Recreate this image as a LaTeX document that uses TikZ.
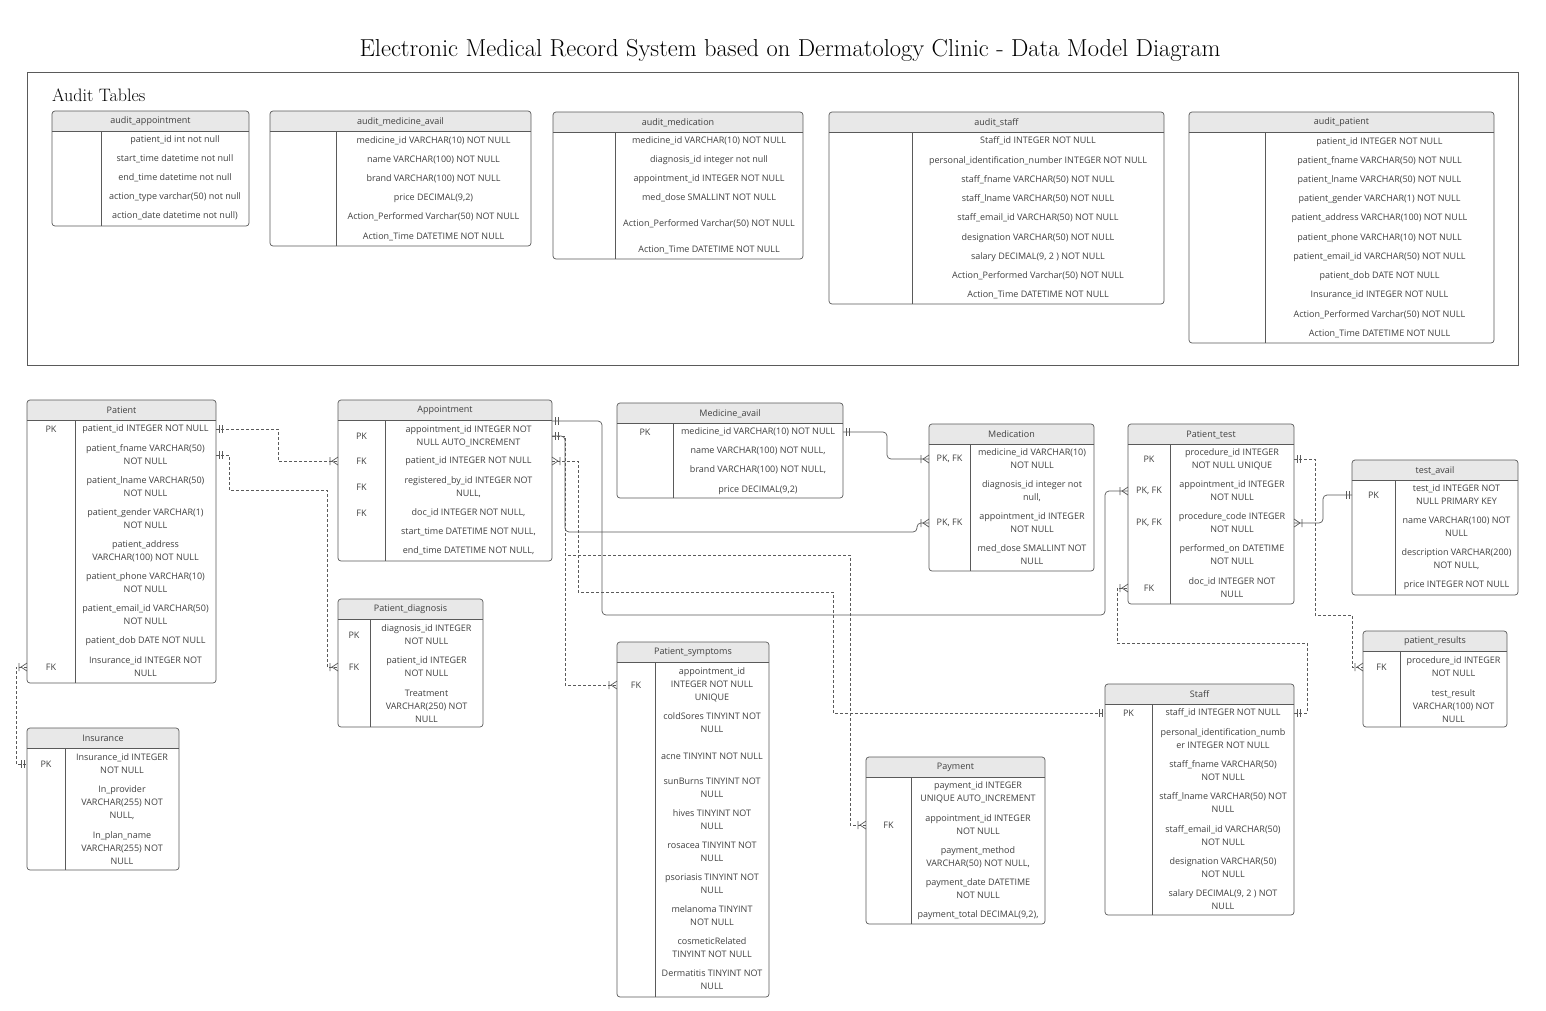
\documentclass[tikz,border=0pt]{standalone}
\usepackage{fontspec}
\usepackage{tikz}
\usetikzlibrary{calc}
\newfontfamily\tblfont{Open Sans}
\definecolor{hdrgray}{HTML}{E8E8E8}
\definecolor{linegray}{HTML}{5A5A5A}
\definecolor{txtgray}{HTML}{404040}

% table: name, x, y, width, height, key column width, title
\newcommand{\erbox}[7]{%
  \node[tbox, minimum width=#4pt, minimum height=#5pt, anchor=north west] (#1) at (#2,#3) {};
  \begin{scope}
    \clip[rounded corners=3pt] (#1.north west) rectangle (#1.south east);
    \fill[hdrgray] (#1.north west) rectangle ([yshift=-20pt]#1.north east);
  \end{scope}
  \draw[tline] ([yshift=-20pt]#1.north west) -- ([yshift=-20pt]#1.north east);
  \draw[tline] ([xshift=#6pt,yshift=-20pt]#1.north west) -- ([xshift=#6pt]#1.south west);
  \draw[tline, rounded corners=3pt] (#1.north west) rectangle (#1.south east);
  \node[fld] (#1-title) at ([yshift=-10.5pt]#1.north) {#7};
  \coordinate (#1-k) at ([xshift=#6pt/2]#1.north west);
  \coordinate (#1-v) at ($([xshift=#6pt]#1.north west)!0.5!(#1.north east)$);
}
\newcommand{\erkey}[3]{\node[fld] (#1-k#2) at (#1-k |- 0,#2) {#3};}
\newcommand{\erval}[4]{\node[fld] (#2) at (#1-v |- 0,#3) {#4};}

\begin{document}
\begin{tikzpicture}[x=1pt, y=-1pt,
    tbox/.style={inner sep=0pt, outer sep=0pt},
    tline/.style={draw=linegray, line width=0.7pt},
    fld/.style={font=\tblfont\fontsize{9}{13}\selectfont, text=txtgray, align=center, inner sep=0pt},
    rel/.style={draw=linegray, line width=0.7pt},
    solidrel/.style={rel, rounded corners=4pt},
    dashrel/.style={rel, dash pattern=on 3pt off 2pt},
    one/.pic={\draw[linegray, line width=0.7pt] (-3,-4) -- (-3,4) (-6,-4) -- (-6,4);},
    many/.pic={\draw[linegray, line width=0.7pt] (-8,-4) -- (-8,4) (0,-4) -- (-6,0) -- (0,4);}]
    \fill[white] (0,0) rectangle (1546,1010);
    \useasboundingbox (0,0) rectangle (1546,1010);

    \node[font=\fontsize{24.5}{28}\selectfont, text=black] (title) at (790,50) {Electronic Medical Record System based on Dermatology Clinic - Data Model Diagram};
    \node[draw=linegray, line width=0.8pt, tbox, minimum width=1491pt, minimum height=293pt, anchor=north west] (auditframe) at (27,72) {};
    \node[font=\fontsize{18}{22}\selectfont, text=black, anchor=west, inner sep=0pt] (audithead) at (52,95) {Audit Tables};

    % audit tables
    \erbox{aappt}{52}{111}{197}{115}{49}{audit\_appointment}
    \erval{aappt}{aappt-1}{140}{patient\_id int not null}
    \erval{aappt}{aappt-2}{159}{start\_time datetime not null}
    \erval{aappt}{aappt-3}{178}{end\_time datetime not null}
    \erval{aappt}{aappt-4}{197}{action\_type varchar(50) not null}
    \erval{aappt}{aappt-5}{216}{action\_date datetime not null)}

    \erbox{amav}{270}{111}{261}{135}{66}{audit\_medicine\_avail}
    \erval{amav}{amav-1}{141}{medicine\_id VARCHAR(10) NOT NULL}
    \erval{amav}{amav-2}{160}{name VARCHAR(100) NOT NULL}
    \erval{amav}{amav-3}{179}{brand VARCHAR(100) NOT NULL}
    \erval{amav}{amav-4}{198}{price DECIMAL(9,2)}
    \erval{amav}{amav-5}{217}{Action\_Performed Varchar(50) NOT NULL}
    \erval{amav}{amav-6}{237}{Action\_Time DATETIME NOT NULL}

    \erbox{amed}{553}{112}{250}{147}{62}{audit\_medication}
    \erval{amed}{amed-1}{141}{medicine\_id VARCHAR(10) NOT NULL}
    \erval{amed}{amed-2}{160}{diagnosis\_id integer not null}
    \erval{amed}{amed-3}{179}{appointment\_id INTEGER NOT NULL}
    \erval{amed}{amed-4}{198}{med\_dose SMALLINT NOT NULL}
    \erval{amed}{amed-5}{224}{Action\_Performed Varchar(50) NOT NULL}
    \erval{amed}{amed-6}{250}{Action\_Time DATETIME NOT NULL}

    \erbox{astf}{829}{112}{335}{192}{83}{audit\_staff}
    \erval{astf}{astf-1}{141}{Staff\_id INTEGER NOT NULL}
    \erval{astf}{astf-2}{161}{personal\_identification\_number INTEGER NOT NULL}
    \erval{astf}{astf-3}{180}{staff\_fname VARCHAR(50) NOT NULL}
    \erval{astf}{astf-4}{199}{staff\_lname VARCHAR(50) NOT NULL}
    \erval{astf}{astf-5}{218}{staff\_email\_id VARCHAR(50) NOT NULL}
    \erval{astf}{astf-6}{238}{designation VARCHAR(50) NOT NULL}
    \erval{astf}{astf-7}{257}{salary DECIMAL(9, 2 ) NOT NULL}
    \erval{astf}{astf-8}{276}{Action\_Performed Varchar(50) NOT NULL}
    \erval{astf}{astf-9}{295}{Action\_Time DATETIME NOT NULL}

    \erbox{apat}{1189}{112}{305}{231}{76}{audit\_patient}
    \erval{apat}{apat-1}{142}{patient\_id INTEGER NOT NULL}
    \erval{apat}{apat-2}{161}{patient\_fname VARCHAR(50) NOT NULL}
    \erval{apat}{apat-3}{180}{patient\_lname VARCHAR(50) NOT NULL}
    \erval{apat}{apat-4}{199}{patient\_gender VARCHAR(1) NOT NULL}
    \erval{apat}{apat-5}{218}{patient\_address VARCHAR(100) NOT NULL}
    \erval{apat}{apat-6}{238}{patient\_phone VARCHAR(10) NOT NULL}
    \erval{apat}{apat-7}{257}{patient\_email\_id VARCHAR(50) NOT NULL}
    \erval{apat}{apat-8}{276}{patient\_dob DATE NOT NULL}
    \erval{apat}{apat-9}{295}{Insurance\_id INTEGER NOT NULL}
    \erval{apat}{apat-10}{315}{Action\_Performed Varchar(50) NOT NULL}
    \erval{apat}{apat-11}{334}{Action\_Time DATETIME NOT NULL}

    % main tables
    \erbox{patient}{27}{400}{189}{283}{48}{Patient}
    \erkey{patient}{429}{PK}
    \erkey{patient}{667}{FK}
    \erval{patient}{pat-pid}{429}{patient\_id INTEGER NOT NULL}
    \erval{patient}{pat-fname}{455}{patient\_fname VARCHAR(50)\\NOT NULL}
    \erval{patient}{pat-lname}{487}{patient\_lname VARCHAR(50)\\NOT NULL}
    \erval{patient}{pat-gender}{519}{patient\_gender VARCHAR(1)\\NOT NULL}
    \erval{patient}{pat-addr}{551}{patient\_address\\VARCHAR(100) NOT NULL}
    \erval{patient}{pat-phone}{583}{patient\_phone VARCHAR(10)\\NOT NULL}
    \erval{patient}{pat-email}{615}{patient\_email\_id VARCHAR(50)\\NOT NULL}
    \erval{patient}{pat-dob}{641}{patient\_dob DATE NOT NULL}
    \erval{patient}{pat-ins}{667}{Insurance\_id INTEGER NOT\\NULL}

    \erbox{appointment}{338}{400}{214}{161}{47}{Appointment}
    \erkey{appointment}{436}{PK}
    \erkey{appointment}{461}{FK}
    \erkey{appointment}{487}{FK}
    \erkey{appointment}{513}{FK}
    \erval{appointment}{app-id}{436}{appointment\_id INTEGER NOT\\NULL AUTO\_INCREMENT}
    \erval{appointment}{app-pid}{461}{patient\_id INTEGER NOT NULL}
    \erval{appointment}{app-reg}{487}{registered\_by\_id INTEGER NOT\\NULL,}
    \erval{appointment}{app-doc}{513}{doc\_id INTEGER NOT NULL,}
    \erval{appointment}{app-start}{532}{start\_time DATETIME NOT NULL,}
    \erval{appointment}{app-end}{551}{end\_time DATETIME NOT NULL,}

    \erbox{medavail}{617}{403}{226}{95}{56}{Medicine\_avail}
    \erkey{medavail}{432}{PK}
    \erval{medavail}{mav-id}{432}{medicine\_id VARCHAR(10) NOT NULL}
    \erval{medavail}{mav-name}{451}{name VARCHAR(100) NOT NULL,}
    \erval{medavail}{mav-brand}{470}{brand VARCHAR(100) NOT NULL,}
    \erval{medavail}{mav-price}{490}{price DECIMAL(9,2)}

    \erbox{medication}{929}{424}{165}{147}{41}{Medication}
    \erkey{medication}{459}{PK, FK}
    \erkey{medication}{523}{PK, FK}
    \erval{medication}{med-mid}{459}{medicine\_id VARCHAR(10)\\NOT NULL}
    \erval{medication}{med-did}{491}{diagnosis\_id integer not\\null,}
    \erval{medication}{med-aid}{523}{appointment\_id INTEGER\\NOT NULL}
    \erval{medication}{med-dose}{555}{med\_dose SMALLINT NOT\\NULL}

    \erbox{ptest}{1128}{424}{166}{180}{42}{Patient\_test}
    \erkey{ptest}{459}{PK}
    \erkey{ptest}{491}{PK, FK}
    \erkey{ptest}{523}{PK, FK}
    \erkey{ptest}{588}{FK}
    \erval{ptest}{pt-pid}{459}{procedure\_id INTEGER\\NOT NULL UNIQUE}
    \erval{ptest}{pt-aid}{491}{appointment\_id INTEGER\\NOT NULL}
    \erval{ptest}{pt-code}{523}{procedure\_code INTEGER\\NOT NULL}
    \erval{ptest}{pt-on}{555}{performed\_on DATETIME\\NOT NULL}
    \erval{ptest}{pt-doc}{588}{doc\_id INTEGER NOT\\NULL}

    \erbox{testavail}{1352}{460}{166}{135}{43}{test\_avail}
    \erkey{testavail}{495}{PK}
    \erval{testavail}{ta-id}{495}{test\_id INTEGER NOT\\NULL PRIMARY KEY}
    \erval{testavail}{ta-name}{527}{name VARCHAR(100) NOT\\NULL}
    \erval{testavail}{ta-desc}{559}{description VARCHAR(200)\\NOT NULL,}
    \erval{testavail}{ta-price}{585}{price INTEGER NOT NULL}

    \erbox{results}{1363}{631}{144}{96}{37}{patient\_results}
    \erkey{results}{667}{FK}
    \erval{results}{res-pid}{667}{procedure\_id INTEGER\\NOT NULL}
    \erval{results}{res-val}{706}{test\_result\\VARCHAR(100) NOT\\NULL}

    \erbox{diagnosis}{338}{599}{145}{128}{32}{Patient\_diagnosis}
    \erkey{diagnosis}{635}{PK}
    \erkey{diagnosis}{667}{FK}
    \erval{diagnosis}{dia-id}{635}{diagnosis\_id INTEGER\\NOT NULL}
    \erval{diagnosis}{dia-pid}{667}{patient\_id INTEGER\\NOT NULL}
    \erval{diagnosis}{dia-treat}{706}{Treatment\\VARCHAR(250) NOT\\NULL}

    \erbox{insurance}{27}{728}{152}{142}{38}{Insurance}
    \erkey{insurance}{764}{PK}
    \erval{insurance}{ins-id}{764}{Insurance\_id INTEGER\\NOT NULL}
    \erval{insurance}{ins-prov}{803}{In\_provider\\VARCHAR(255) NOT\\NULL,}
    \erval{insurance}{ins-plan}{848}{In\_plan\_name\\VARCHAR(255) NOT\\NULL}

    \erbox{symptoms}{617}{642}{152}{355}{38}{Patient\_symptoms}
    \erkey{symptoms}{685}{FK}
    \erval{symptoms}{sym-aid}{685}{appointment\_id\\INTEGER NOT NULL\\UNIQUE}
    \erval{symptoms}{sym-cold}{723}{coldSores TINYINT NOT\\NULL}
    \erval{symptoms}{sym-acne}{756}{acne TINYINT NOT NULL}
    \erval{symptoms}{sym-sun}{788}{sunBurns TINYINT NOT\\NULL}
    \erval{symptoms}{sym-hives}{820}{hives TINYINT NOT\\NULL}
    \erval{symptoms}{sym-ros}{852}{rosacea TINYINT NOT\\NULL}
    \erval{symptoms}{sym-pso}{884}{psoriasis TINYINT NOT\\NULL}
    \erval{symptoms}{sym-mel}{916}{melanoma TINYINT\\NOT NULL}
    \erval{symptoms}{sym-cos}{948}{cosmeticRelated\\TINYINT NOT NULL}
    \erval{symptoms}{sym-derm}{980}{Dermatitis TINYINT NOT\\NULL}

    \erbox{payment}{866}{757}{179}{167}{45}{Payment}
    \erkey{payment}{825}{FK}
    \erval{payment}{pay-id}{792}{payment\_id INTEGER\\UNIQUE AUTO\_INCREMENT}
    \erval{payment}{pay-aid}{825}{appointment\_id INTEGER\\NOT NULL}
    \erval{payment}{pay-meth}{857}{payment\_method\\VARCHAR(50) NOT NULL,}
    \erval{payment}{pay-date}{889}{payment\_date DATETIME\\NOT NULL}
    \erval{payment}{pay-tot}{915}{payment\_total DECIMAL(9,2),}

    \erbox{staff}{1105}{684}{189}{231}{47}{Staff}
    \erkey{staff}{713}{PK}
    \erval{staff}{stf-id}{713}{staff\_id INTEGER NOT NULL}
    \erval{staff}{stf-pin}{739}{personal\_identification\_numb\\er INTEGER NOT NULL}
    \erval{staff}{stf-fname}{771}{staff\_fname VARCHAR(50)\\NOT NULL}
    \erval{staff}{stf-lname}{803}{staff\_lname VARCHAR(50) NOT\\NULL}
    \erval{staff}{stf-email}{836}{staff\_email\_id VARCHAR(50)\\NOT NULL}
    \erval{staff}{stf-desig}{868}{designation VARCHAR(50)\\NOT NULL}
    \erval{staff}{stf-sal}{900}{salary DECIMAL(9, 2 ) NOT\\NULL}

    % relationships
    \draw[dashrel] (patient.east |- pat-pid) -- ++(62,0) |- (appointment.west |- app-pid);
    \draw[dashrel] (patient.east |- pat-fname) -- ++(13,0) |- (327,490) |- (diagnosis.west |- dia-pid);
    \draw[dashrel] (patient.west |- pat-ins) -- ++(-11,0) |- (insurance.west |- ins-id);
    \coordinate (app-top) at ([yshift=-21pt]appointment.north east);
    \draw[solidrel] (app-top) -- ++(50,0) |- (1105,615) |- (ptest.west |- pt-aid);
    \draw[dashrel] (appointment.east |- app-id) -- ++(13,0) |- (symptoms.west |- sym-aid);
    \draw[dashrel] (appointment.east |- app-id) -- ++(13,0) |- (850,555) |- (payment.west |- pay-aid);
    \draw[solidrel] (appointment.east |- app-id) -- ++(13,0) |- (917,532) |- (medication.west |- med-aid);
    \draw[dashrel] (appointment.east |- app-pid) -- ++(26,0) |- (833,592) |- (staff.west |- stf-id);
    \draw[solidrel] (medavail.east |- mav-id) -- ++(44,0) |- (medication.west |- med-mid);
    \draw[dashrel] (ptest.east |- pt-pid) -- ++(21,0) |- (1352,615) |- (results.west |- res-pid);
    \draw[solidrel] (ptest.east |- pt-code) -- ++(29,0) |- (testavail.west |- ta-id);
    \draw[dashrel] (staff.east |- stf-id) -- ++(13,0) |- (1117,643) |- (ptest.west |- pt-doc);

    % crow's feet
    \pic[xscale=-1] at (patient.east |- pat-pid) {one};
    \pic at (appointment.west |- app-pid) {many};
    \pic[xscale=-1] at (patient.east |- pat-fname) {one};
    \pic at (diagnosis.west |- dia-pid) {many};
    \pic at (patient.west |- pat-ins) {many};
    \pic at (insurance.west |- ins-id) {one};
    \pic[xscale=-1] at (app-top) {one};
    \pic at (ptest.west |- pt-aid) {many};
    \pic[xscale=-1] at (appointment.east |- app-id) {one};
    \pic at (medication.west |- med-aid) {many};
    \pic at (symptoms.west |- sym-aid) {many};
    \pic at (payment.west |- pay-aid) {many};
    \pic[xscale=-1] at (appointment.east |- app-pid) {many};
    \pic at (staff.west |- stf-id) {one};
    \pic[xscale=-1] at (medavail.east |- mav-id) {one};
    \pic at (medication.west |- med-mid) {many};
    \pic[xscale=-1] at (ptest.east |- pt-pid) {one};
    \pic at (results.west |- res-pid) {many};
    \pic[xscale=-1] at (ptest.east |- pt-code) {many};
    \pic at (testavail.west |- ta-id) {one};
    \pic[xscale=-1] at (staff.east |- stf-id) {one};
    \pic at (ptest.west |- pt-doc) {many};
\end{tikzpicture}
\end{document}
